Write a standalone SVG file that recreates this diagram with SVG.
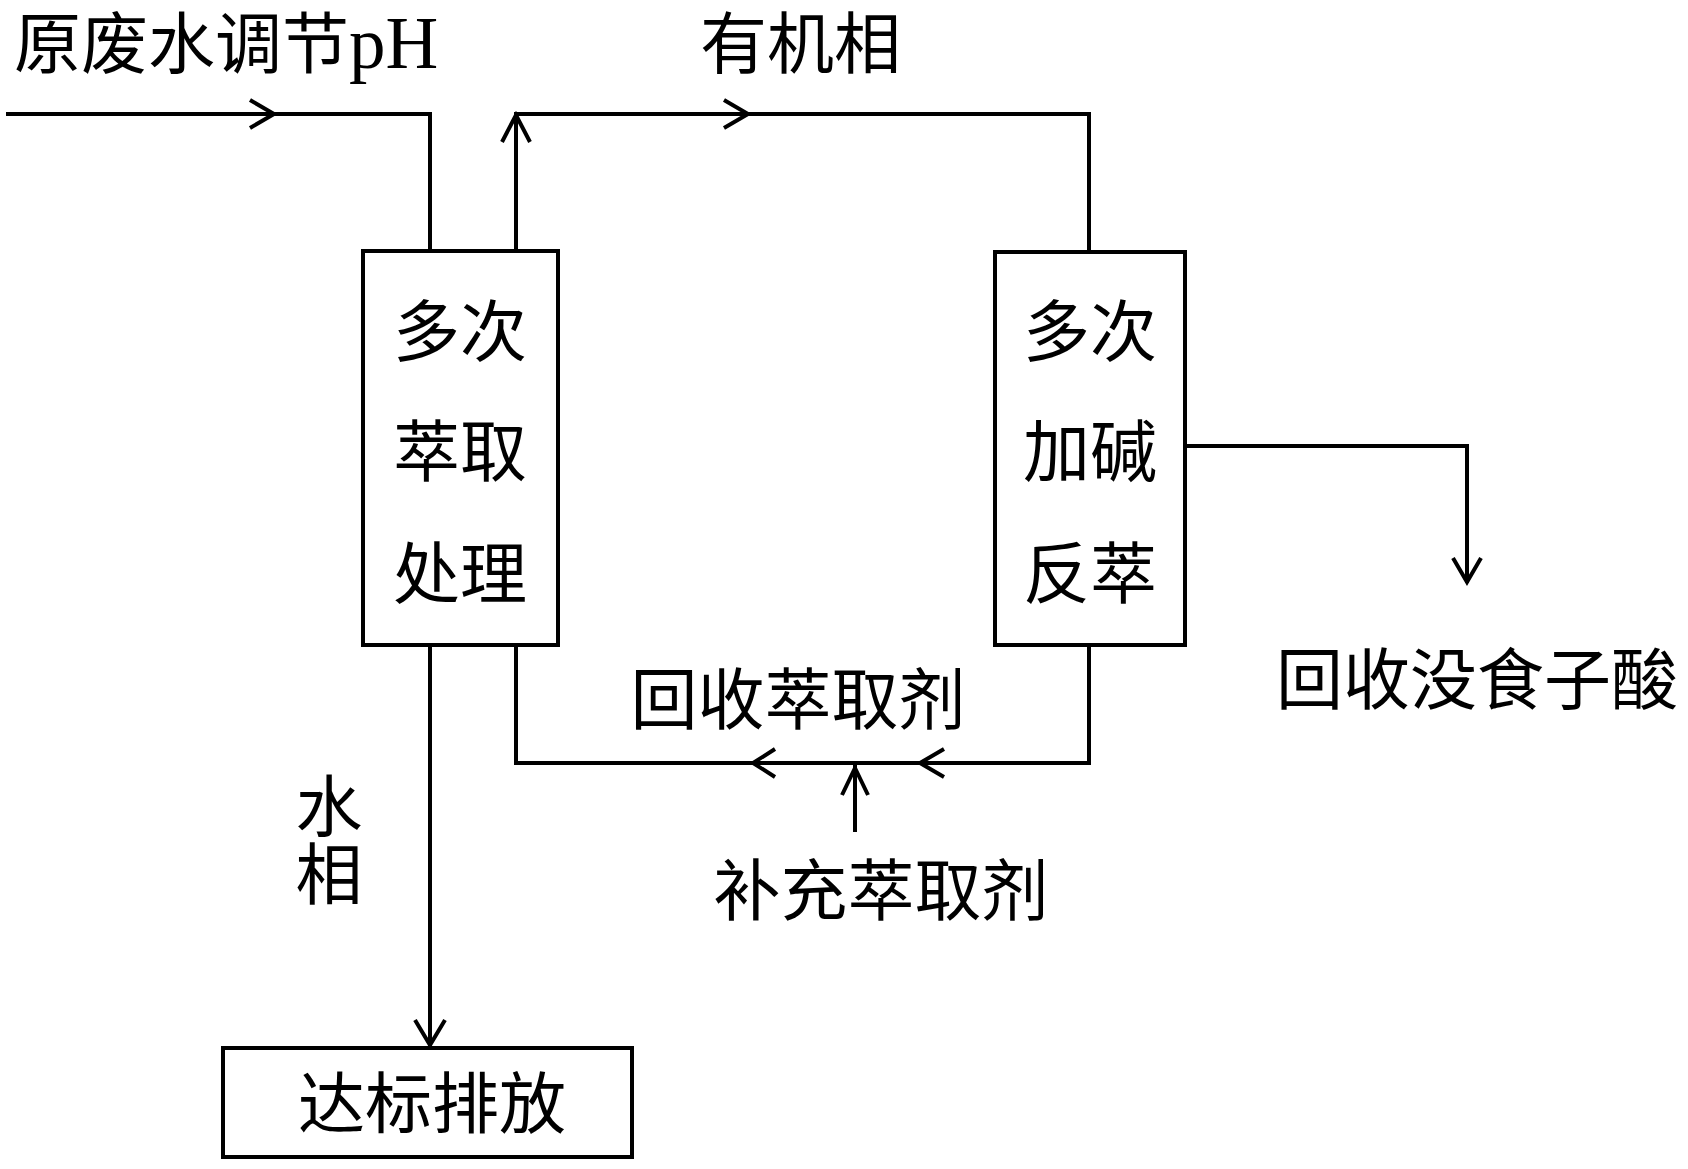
<svg xmlns="http://www.w3.org/2000/svg" width="1688" height="1169" viewBox="0 0 1688 1169">
<style>
.box{fill:#fff;stroke:#000;stroke-width:4}
.ln{fill:none;stroke:#000;stroke-width:4;stroke-linejoin:miter}
.ah{fill:none;stroke:#000;stroke-width:4;stroke-linejoin:miter}
text{font-family:"Liberation Serif","Noto Sans CJK SC",serif;font-size:67px;fill:#000}
.m{text-anchor:middle}
</style>
<rect width="1688" height="1169" fill="#fff"/>
<g id="connectors">
<path class="ln" d="M6,114 H430 V251"/>
<path class="ah" d="M250,100 L274,114 L250,128"/>
<path class="ln" d="M516,251 V114 H1089 V252"/>
<path class="ah" d="M502,142 L516,115 L530,142"/>
<path class="ah" d="M724,100 L748,114 L724,128"/>
<path class="ln" d="M1185,446 H1467 V583"/>
<path class="ah" d="M1453,558 L1467,582 L1481,558"/>
<path class="ln" d="M1089,645 V763 H516 V645"/>
<path class="ah" d="M775,749 L753,763 L775,777"/>
<path class="ah" d="M944,749 L920,763 L944,777"/>
<path class="ln" d="M855,832 V765"/>
<path class="ah" d="M842,795 L855,768 L868,795"/>
<path class="ln" d="M430,645 V1046"/>
<path class="ah" d="M415,1020 L430,1045 L445,1020"/>
</g>
<g id="label-input"><text x="14" y="68" font-size="68">原废水调节<tspan font-size="73">pH</tspan></text></g>
<g id="label-organic"><text x="700" y="68" font-size="68">有机相</text></g>
<g id="node-extract">
<rect class="box" x="363" y="251" width="195" height="394"/>
<text class="m" x="460" y="356">多次</text>
<text class="m" x="460" y="476">萃取</text>
<text class="m" x="460" y="598">处理</text>
</g>
<g id="node-strip">
<rect class="box" x="995" y="252" width="190" height="393"/>
<text class="m" x="1090" y="356">多次</text>
<text class="m" x="1090" y="476">加碱</text>
<text class="m" x="1090" y="598">反萃</text>
</g>
<g id="label-gallic"><text x="1276" y="704" font-size="69">回收没食子酸</text></g>
<g id="label-recover"><text class="m" x="798" y="724" font-size="68">回收萃取剂</text></g>
<g id="label-makeup"><text class="m" x="881" y="915" font-size="70">补充萃取剂</text></g>
<g id="label-aqueous">
<text class="m" x="329" y="831" font-size="63">水</text>
<text class="m" x="329" y="899" font-size="63">相</text>
</g>
<g id="node-discharge">
<rect class="box" x="223" y="1048" width="409" height="109"/>
<text class="m" x="432" y="1128" font-size="70">达标排放</text>
</g>
</svg>
